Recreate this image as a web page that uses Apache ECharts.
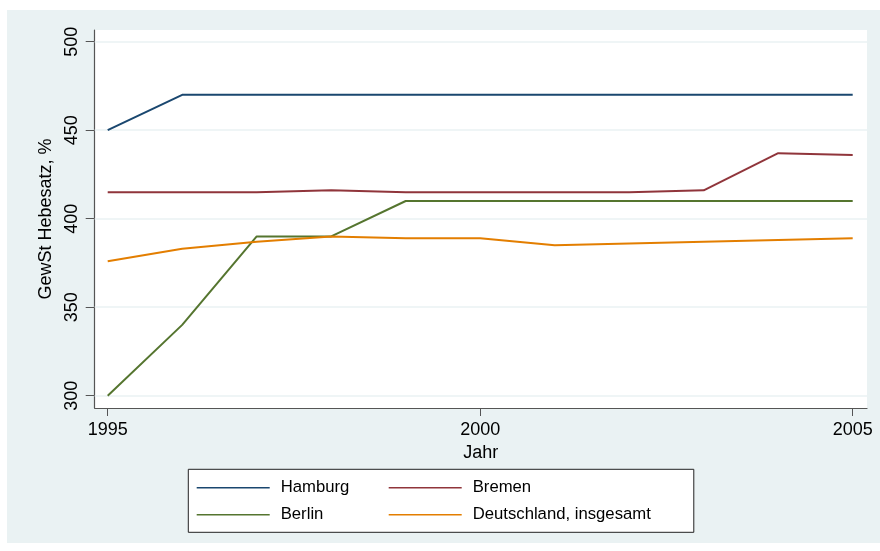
<!DOCTYPE html>
<html>
<head>
<meta charset="utf-8">
<script src="https://cdn.jsdelivr.net/npm/echarts@6/dist/echarts.min.js"></script>
<style>
html,body{margin:0;padding:0;background:#ffffff;}
#c{width:880px;height:551px;}
</style>
</head>
<body>
<div id="c"></div>
<script>
const years = [1995,1996,1997,1998,1999,2000,2001,2002,2003,2004,2005];
const hamburg = [450,470,470,470,470,470,470,470,470,470,470];
const bremen = [415,415,415,416,415,415,415,415,416,437,436];
const berlin = [300,340,390,390,410,410,410,410,410,410,410];
const deutschland = [376,383,387,390,389,389,385,386,387,388,389];
const yTicks = [300,350,400,450,500];
const xTicks = [1995,2000,2005];
const seriesNames = ['Hamburg','Bremen','Berlin','Deutschland, insgesamt'];
const seriesColors = ['#1A476F','#90353B','#55752F','#E37E00'];
const seriesData = [hamburg, bremen, berlin, deutschland];

const FONT = '"Liberation Sans", Arial, Helvetica, sans-serif';
const chart = echarts.init(document.getElementById('c'), null, {renderer:'canvas'});

const series = seriesNames.map((n,i)=>({
  name:n, type:'line', showSymbol:false, symbol:'none',
  data: years.map((y,k)=>[y, seriesData[i][k]]),
  lineStyle:{color:seriesColors[i], width:2},
  itemStyle:{color:seriesColors[i]},
  z:10, animation:false
}));
series.unshift({
  name:'grid', type:'line', data:[], z:1, silent:true, animation:false,
  markLine:{silent:true, symbol:'none', animation:false, z:1,
    label:{show:false},
    lineStyle:{color:'#EAF2F3', width:1.5, type:'solid'},
    data: yTicks.map(v=>({yAxis:v}))
  }
});

chart.setOption({
  animation:false,
  backgroundColor:'#ffffff',
  textStyle:{fontFamily:FONT},
  graphic:[{type:'rect', z:-10, silent:true,
    shape:{x:7,y:10,width:873,height:533}, style:{fill:'#EAF2F3'}}],
  grid:{left:94.7, top:30, right:13, bottom:143, show:true,
    backgroundColor:'#ffffff', borderWidth:0, containLabel:false},
  xAxis:{type:'value', min:1994.8255, max:2005.192,
    name:'Jahr', nameLocation:'middle', nameGap:30,
    nameTextStyle:{fontSize:18, color:'#000', fontFamily:FONT},
    axisLine:{show:true, lineStyle:{color:'#555', width:1.2}},
    axisTick:{show:true, customValues:xTicks, length:8, lineStyle:{color:'#555'}},
    axisLabel:{customValues:xTicks, fontSize:18, color:'#000', margin:13, fontFamily:FONT,
      formatter:v=>String(v)},
    splitLine:{show:false}},
  yAxis:{type:'value', min:293.05, max:506.6,
    name:'GewSt Hebesatz, %', nameLocation:'middle', nameGap:35, nameRotate:90,
    nameTextStyle:{fontSize:18, color:'#000', fontFamily:FONT},
    axisLine:{show:true, onZero:false, lineStyle:{color:'#555', width:1.2}},
    axisTick:{show:true, customValues:yTicks, length:9, lineStyle:{color:'#555'}},
    axisLabel:{customValues:yTicks, rotate:90, fontSize:18, color:'#000', margin:14, fontFamily:FONT,
      formatter:v=>String(v)},
    splitLine:{show:false}},
  legend:{data:seriesNames, left:188.3, top:469.3, orient:'horizontal',
    width:460, itemWidth:73, itemHeight:16, itemGap:10,
    icon:'path://M0,7.2 L73,7.2 L73,8.8 L0,8.8 Z',
    backgroundColor:'#ffffff', borderColor:'#222', borderWidth:1,
    padding:[10,43,9,8.4],
    textStyle:{fontSize:16.7, color:'#000', fontFamily:FONT, width:98, lineHeight:16, padding:[0,0,0,6]}
  },
  series:series
});
</script>
</body>
</html>
